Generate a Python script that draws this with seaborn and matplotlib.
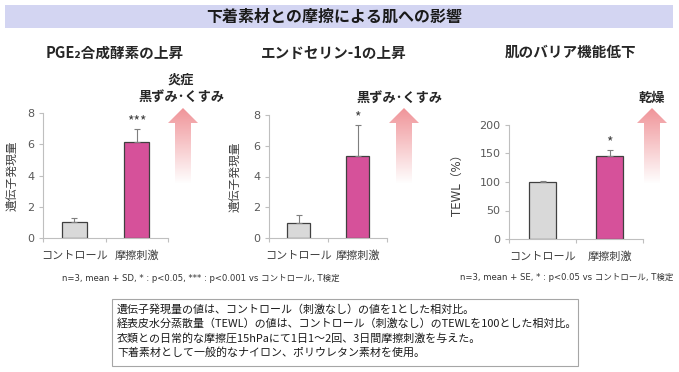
import numpy as np
import pandas as pd
import matplotlib.pyplot as plt
import seaborn as sns
from matplotlib.patches import Polygon, Rectangle

# 데이터
categories = ['コントロール', '摩擦刺激']
pge2_mean = [1.0, 6.15]
pge2_sd = [0.25, 0.82]
pge2_mark = ['', '***']
et1_mean = [1.0, 5.33]
et1_sd = [0.52, 2.0]
et1_mark = ['', '*']
tewl_mean = [100, 146]
tewl_se = [1.5, 11]
tewl_mark = ['', '*']

sns.set_theme(style='white')
plt.rcParams['font.family'] = ['Noto Sans CJK JP', 'DejaVu Sans']
latin_first = ['DejaVu Sans', 'Noto Sans CJK JP']

W, H = 679, 372
fig = plt.figure(figsize=(W / 100, H / 100), dpi=100)

# 배경용 axes (픽셀 좌표)
bg = fig.add_axes([0, 0, 1, 1])
bg.set_xlim(0, W)
bg.set_ylim(H, 0)
bg.axis('off')

bg.add_patch(Rectangle((5, 5), 668, 23, color='#d3d5f2', lw=0))
bg.text(334, 17, '下着素材との摩擦による肌への影響', ha='center', va='center',
        fontsize=11.5, fontweight='bold', color='#1a1a1a')

bg.text(115, 53, 'PGE₂合成酵素の上昇', ha='center', va='center', fontsize=10.5, fontweight='bold')
bg.text(334, 53, 'エンドセリン-1の上昇', ha='center', va='center', fontsize=10.5, fontweight='bold')
bg.text(571, 52, '肌のバリア機能低下', ha='center', va='center', fontsize=10.5, fontweight='bold')


def grad_arrow(cx, ty=108, hb=123, by=184, hw=15, sw=8):
    pts = [(cx, ty), (cx + hw, hb), (cx + sw, hb), (cx + sw, by),
           (cx - sw, by), (cx - sw, hb), (cx - hw, hb)]
    poly = Polygon(pts, closed=True, facecolor='none', edgecolor='none')
    bg.add_patch(poly)
    n = 100
    grad = np.zeros((n, 1, 4))
    grad[:, 0, 0] = 0.94
    grad[:, 0, 1] = 0.56
    grad[:, 0, 2] = 0.58
    grad[:, 0, 3] = np.linspace(0.95, 0.0, n)
    im = bg.imshow(grad, extent=(cx - hw, cx + hw, by, ty), aspect='auto', origin='upper')
    im.set_clip_path(poly)


grad_arrow(183)
grad_arrow(404)
grad_arrow(652)
bg.set_xlim(0, W)
bg.set_ylim(H, 0)

bg.text(181, 80, '炎症', ha='center', va='center', fontsize=9.5, fontweight='bold')
bg.text(182, 97, '黒ずみ･くすみ', ha='center', va='center', fontsize=9.5, fontweight='bold')
bg.text(400, 98, '黒ずみ･くすみ', ha='center', va='center', fontsize=9.5, fontweight='bold')
bg.text(652, 98, '乾燥', ha='center', va='center', fontsize=9.5, fontweight='bold')

bg.text(201, 278, 'n=3, mean + SD, * : p<0.05, *** : p<0.001 vs コントロール, T検定',
        ha='center', va='center', fontsize=6.1, color='#333333', family=latin_first)
bg.text(567, 277, 'n=3, mean + SE, * : p<0.05 vs コントロール, T検定',
        ha='center', va='center', fontsize=6.1, color='#333333', family=latin_first)

# 설명 박스
bg.add_patch(Rectangle((112, 299), 466, 67, facecolor='white', edgecolor='#a6a6a6', lw=0.8))
notes = ['遺伝子発現量の値は、コントロール（刺激なし）の値を1とした相対比。',
         '経表皮水分蒸散量（TEWL）の値は、コントロール（刺激なし）のTEWLを100とした相対比。',
         '衣類との日常的な摩擦圧15hPaにて1日1～2回、3日間摩擦刺激を与えた。',
         '下着素材として一般的なナイロン、ポリウレタン素材を使用。']
for i, line in enumerate(notes):
    bg.text(117, 309 + i * 14.5, line, ha='left', va='center', fontsize=7.9, color='#1a1a1a')


def px_rect(x0, y0, x1, y1):
    return [x0 / W, 1 - y1 / H, (x1 - x0) / W, (y1 - y0) / H]


def draw_bars(rect, means, errs, marks, ymax, step, ylabel, label_x):
    ax = fig.add_axes(rect)
    ax.patch.set_visible(False)
    df = pd.DataFrame({'group': categories, 'value': means})
    sns.barplot(data=df, x='group', y='value', hue='group',
                palette=['#d9d9d9', '#d6519a'], width=0.4, saturation=1,
                edgecolor='#404040', linewidth=0.9, legend=False, ax=ax)
    ax.errorbar(range(len(means)), means, yerr=[np.zeros(len(errs)), errs],
                fmt='none', ecolor='#7f7f7f', elinewidth=0.8, capsize=2.5, capthick=0.8)
    for i, m in enumerate(marks):
        ax.text(i, means[i] + errs[i] + ymax * 0.005, m, ha='center', va='bottom',
                fontsize=10, color='#404040')
    ax.set_xlim(-0.5, 1.5)
    ax.set_ylim(0, ymax)
    ax.set_yticks(np.arange(0, ymax + step, step))
    ax.set_xlabel('')
    ax.set_ylabel(ylabel, fontsize=8.5, color='#404040', family=latin_first)
    ax.yaxis.set_label_coords(label_x, 0.5)
    for s in ['top', 'right']:
        ax.spines[s].set_visible(False)
    for s in ['left', 'bottom']:
        ax.spines[s].set_color('#bfbfbf')
        ax.spines[s].set_linewidth(0.8)
    ax.tick_params(axis='y', left=True, length=3, width=0.8, color='#bfbfbf',
                   labelsize=8, labelcolor='#595959', pad=3)
    for lbl in ax.get_yticklabels():
        lbl.set_family(latin_first)
    ax.tick_params(axis='x', bottom=False, labelsize=8, labelcolor='#404040', pad=3)
    ax.set_xticks([-0.5, 0.5, 1.5], minor=True)
    ax.tick_params(axis='x', which='minor', bottom=True, length=3, width=0.8, color='#bfbfbf')
    return ax


draw_bars(px_rect(43, 113, 168, 238), pge2_mean, pge2_sd, pge2_mark, 8, 2, '遺伝子発現量', -0.2)
draw_bars(px_rect(269, 115, 387, 238), et1_mean, et1_sd, et1_mark, 8, 2, '遺伝子発現量', -0.23)
draw_bars(px_rect(509, 125, 643, 239), tewl_mean, tewl_se, tewl_mark, 200, 50, 'TEWL（%）', -0.34)

plt.savefig('out.png', dpi=100)
